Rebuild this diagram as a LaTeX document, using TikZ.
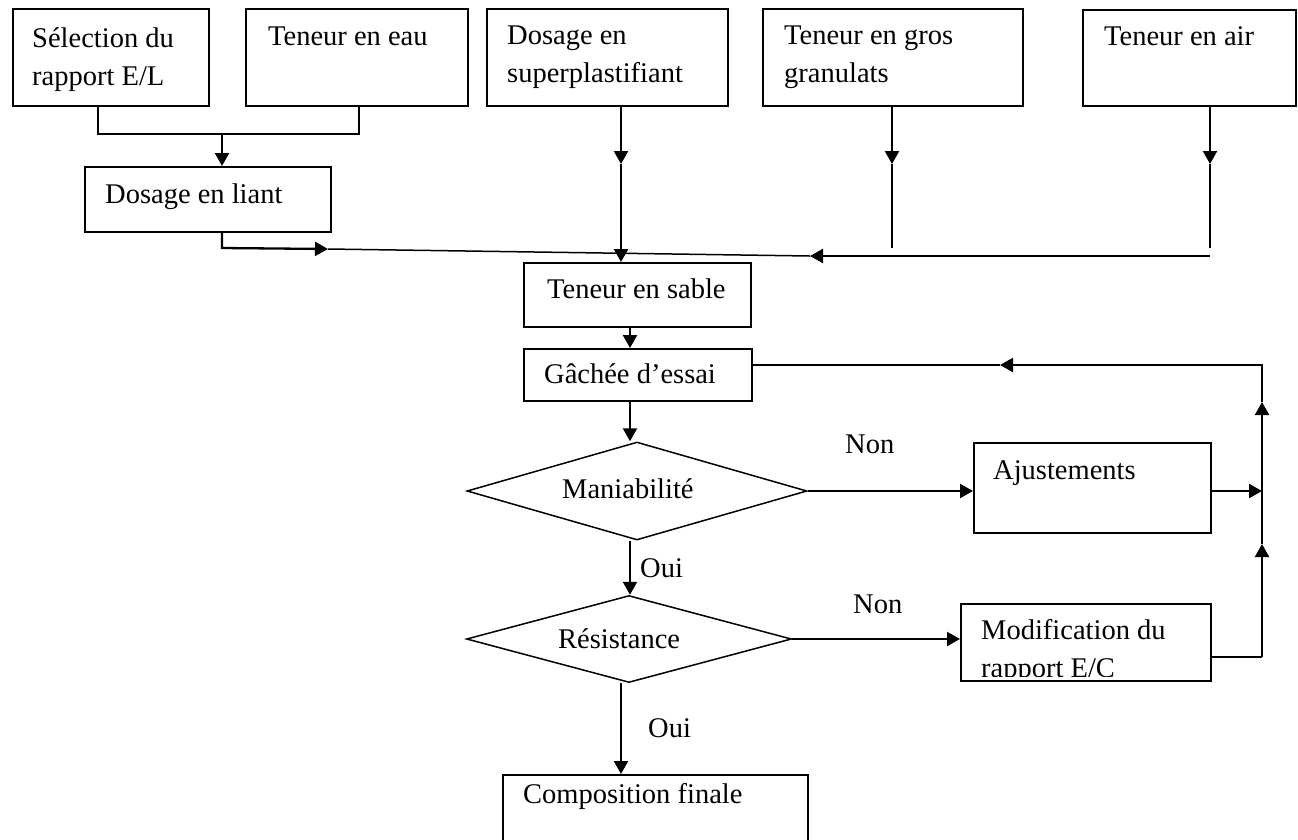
\documentclass[tikz,border=0pt]{standalone}
\usepackage{fontspec}
\setmainfont{Liberation Serif}
\usetikzlibrary{arrows.meta,shapes.geometric,calc}
\begin{document}
\begin{tikzpicture}[x=1pt,y=-1pt,
  box/.style={draw, line width=1.5pt, rectangle, inner sep=0pt, anchor=north west},
  dia/.style={draw, line width=1.5pt, diamond, inner sep=0pt},
  txt/.style={font=\fontsize{28.5}{38}\selectfont, inner sep=0pt, anchor=base west, align=left},
  arr/.style={line width=2.3pt, -{Triangle[length=13pt,width=14pt]}},
  thinln/.style={line width=1.5pt},
  thickln/.style={line width=2.3pt}]
\useasboundingbox (0,0) rectangle (1298,839);
\clip (0,0) rectangle (1298,839);

% boxes
\node[box, minimum width=196, minimum height=97] (sel) at (12,8) {};
\node[box, minimum width=222, minimum height=97] (eau) at (245,8) {};
\node[box, minimum width=241, minimum height=97] (sup) at (486,8) {};
\node[box, minimum width=260, minimum height=97] (gros) at (762,8) {};
\node[box, minimum width=213, minimum height=96] (air) at (1082,9) {};
\node[box, minimum width=246, minimum height=65] (liant) at (84,166) {};
\node[box, minimum width=227, minimum height=64] (sable) at (523,262) {};
\node[box, minimum width=228, minimum height=52] (gache) at (523,348) {};
\node[box, minimum width=237, minimum height=90] (ajust) at (973,442) {};
\node[box, minimum width=250, minimum height=77] (modif) at (960,603) {};
\node[box, minimum width=305, minimum height=100] (comp) at (502,774) {};
\node[dia, minimum width=340, minimum height=98] (mani) at (637,491) {};
\node[dia, minimum width=325, minimum height=87] (resi) at (629,639) {};

% texts (base anchor = baseline of the last line)
\node[txt] (sel-t) at (32,85) {Sélection du\\rapport E/L};
\node[txt] (eau-t) at (268,45) {Teneur en eau};
\node[txt] (sup-t) at (507,82) {Dosage en\\superplastifiant};
\node[txt] (gros-t) at (784,82) {Teneur en gros\\granulats};
\node[txt] (air-t) at (1104,45) {Teneur en air};
\node[txt] (liant-t) at (105,203) {Dosage en liant};
\node[txt] (sable-t) at (547,298) {Teneur en sable};
\node[txt] (gache-t) at (544,383) {Gâchée d’essai};
\node[txt] (mani-t) at (562,498) {Maniabilité};
\node[txt] (ajust-t) at (993,479) {Ajustements};
\begin{scope}
\clip (960,603) rectangle (1210,676);
\node[txt] (modif-t) at (981,677) {Modification du\\rapport E/C};
\end{scope}
\node[txt] (resi-t) at (558,648) {Résistance};
\node[txt] (comp-t) at (523,803) {Composition finale};
\node[txt] (non1) at (845,453) {Non};
\node[txt] (non2) at (853,613) {Non};
\node[txt] (oui1) at (640,577) {Oui};
\node[txt] (oui2) at (648,737) {Oui};

% junction coordinates
\coordinate (j1) at (98,134);
\coordinate (j2) at (359,134);
\coordinate (j0) at (222,134);
\coordinate (l1) at (222,248);
\coordinate (m1) at (328,249);
\coordinate (m2) at (810,256);
\coordinate (m3) at (1210,256);
\coordinate (s1) at (621,164);
\coordinate (g1) at (892,164);
\coordinate (g2) at (892,248);
\coordinate (a1) at (1210,164);
\coordinate (a2) at (1210,248);
\coordinate (cx) at (630,0);
\coordinate (cx2) at (621,0);
\coordinate (r1) at (1262,491);
\coordinate (r2) at (1262,657);
\coordinate (r3) at (1262,544);
\coordinate (r4) at (1262,402);
\coordinate (r5) at (1262,365);
\coordinate (r6) at (1000,365);

% connectors
\draw[thinln] (sel.south -| j1) -- (j1) -- (j2) -- (eau.south -| j2);
\draw[arr] (j0) -- (liant.north -| j0);
\draw[arr] (liant.south -| l1) -- (l1) -- (m1);
\draw[thinln] (m1) -- (m2);
\draw[arr] (m3) -- (m2);
\draw[arr] (sup.south -| s1) -- (s1);
\draw[arr] (s1) -- (sable.north -| s1);
\draw[arr] (gros.south -| g1) -- (g1);
\draw[thinln] (g1) -- (g2);
\draw[arr] (air.south -| a1) -- (a1);
\draw[thinln] (a1) -- (a2);
\draw[arr] (sable.south -| cx) -- (gache.north -| cx);
\draw[arr] (gache.south -| cx) -- (cx |- mani.north);
\draw[arr] (cx |- mani.south) -- (cx |- resi.north);
\draw[arr] (cx2 |- resi.south) -- (comp.north -| cx2);
\draw[arr] (mani.east) -- (ajust.west |- mani.east);
\draw[arr] (resi.east) -- (modif.west |- resi.east);
\draw[arr] (ajust.east |- r1) -- (r1);
\draw[thinln] (modif.east |- r2) -- (r2);
\draw[arr] (r2) -- (r3);
\draw[arr] (r3) -- (r4);
\draw[arr] (r4) -- (r5) -- (r6);
\draw[thinln] (r6) -- (gache.east |- r6);
\end{tikzpicture}
\end{document}
